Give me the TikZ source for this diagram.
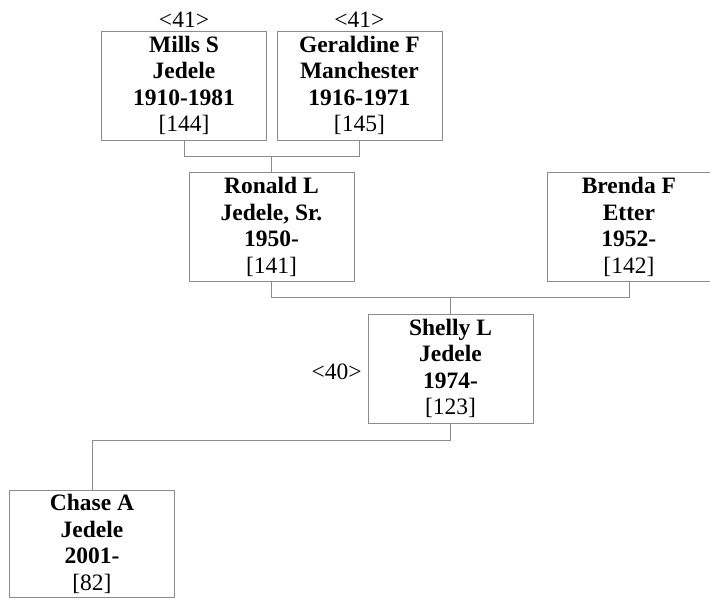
\documentclass[tikz,border=0pt]{standalone}
\usepackage{fontspec}
\setmainfont{Liberation Serif}
\usetikzlibrary{positioning,calc}
\definecolor{Borde}{HTML}{8C8C8C}

\begin{document}
\begin{tikzpicture}[x=1pt,y=1pt,node distance=32pt and 10pt,
        persona/.style={draw=Borde,fill=white,minimum width=165pt,minimum height=109pt,inner sep=0pt,align=center,font=\fontsize{23.5}{26.5}\selectfont},
        etiqueta/.style={inner sep=0pt,font=\fontsize{23.5}{26.5}\selectfont},
        linea/.style={draw=Borde,thick}]
        \useasboundingbox (0,0) rectangle (710,-600);
        \node[persona] (mills) at (184,-85.5) {\textbf{Mills S}\\\textbf{Jedele}\\\textbf{1910-1981}\\{[144]}};
        \node[persona,right=of mills] (geraldine) {\textbf{Geraldine F}\\\textbf{Manchester}\\\textbf{1916-1971}\\{[145]}};
        \node[persona,below=of mills,xshift=87.5pt] (ronald) {\textbf{Ronald L}\\\textbf{Jedele, Sr.}\\\textbf{1950-}\\{[141]}};
        \node[persona,right=193pt of ronald,minimum width=163pt] (brenda) {\textbf{Brenda F}\\\textbf{Etter}\\\textbf{1952-}\\{[142]}};
        \node[persona,below=of ronald,xshift=179pt] (shelly) {\textbf{Shelly L}\\\textbf{Jedele}\\\textbf{1974-}\\{[123]}};
        \node[persona,below=67pt of shelly,xshift=-358.5pt,minimum height=107pt] (chase) {\textbf{Chase A}\\\textbf{Jedele}\\\textbf{2001-}\\{[82]}};
        \node[etiqueta,above=3pt of mills] (gmills) {<41>};
        \node[etiqueta,above=3pt of geraldine] (ggeraldine) {<41>};
        \node[etiqueta,left=6pt of shelly,yshift=-3pt] (gshelly) {<40>};
        \draw[linea] (mills.south) -- ++(0,-16) -| (geraldine.south);
        \draw[linea] (ronald.north) -- ++(0,16);
        \draw[linea] (ronald.south) -- ++(0,-16) -| (brenda.south);
        \draw[linea] (shelly.north) -- ++(0,16);
        \draw[linea] (shelly.south) -- ++(0,-17) -| (chase.north);
      \end{tikzpicture}
\end{document}
